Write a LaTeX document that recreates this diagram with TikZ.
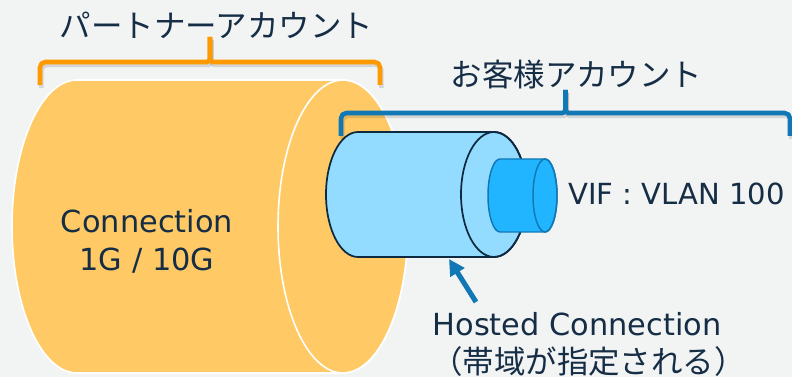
\documentclass[tikz,border=0pt]{standalone}
\usepackage{fontspec}
\setmainfont{DejaVu Sans}
\newfontfamily\jpfont{Noto Sans CJK JP}
\usetikzlibrary{arrows.meta}

\definecolor{bgcol}{HTML}{F2F3F3}
\definecolor{partnerfill}{HTML}{FFCA65}
\definecolor{partnerbrace}{HTML}{FF9900}
\definecolor{custblue}{HTML}{1178B5}
\definecolor{hostedfill}{HTML}{93DBFF}
\definecolor{hostededge}{HTML}{0E2A40}
\definecolor{viffill}{HTML}{22B5FF}
\definecolor{inktext}{HTML}{152D45}

\tikzset{
  bracebase/.style={line width=3.4pt, rounded corners=4pt, line join=round},
  partnerbr/.style={bracebase, draw=partnerbrace},
  custbr/.style={bracebase, draw=custblue},
  braceshadow/.style={bracebase, draw=black, opacity=0.12, xshift=1pt, yshift=-2.2pt},
  jplabel/.style={font=\jpfont\fontsize{23.6}{28}\selectfont, text=inktext, inner sep=0pt},
  enlabel/.style={font=\fontsize{22.8}{28.5}\selectfont, text=inktext, inner sep=0pt},
  pointer/.style={draw=custblue, line width=3.8pt, -{Triangle[length=12pt,width=12pt]}},
}

% curly top brace: style, left x, right x, bar y, tip y, foot y
\newcommand{\topbrace}[6]{%
  \pgfmathsetmacro\bmid{(#2+#3)/2}%
  \foreach \bst in {braceshadow,#1}{%
    \draw[\bst] (#2,#6) -- (#2,#4) -- (\bmid-8,#4)
      .. controls (\bmid-2,#4) and (\bmid,#4-2) .. (\bmid,#4-9) -- (\bmid,#5);
    \draw[\bst] (#3,#6) -- (#3,#4) -- (\bmid+8,#4)
      .. controls (\bmid+2,#4) and (\bmid,#4-2) .. (\bmid,#4-9) -- (\bmid,#5);
  }%
}

\begin{document}
\begin{tikzpicture}[x=0.75pt,y=-0.75pt]
  \fill[bgcol] (0,0) rectangle (792,377);
  \useasboundingbox (0,0) rectangle (792,377);

  % partner connection (large cylinder)
  \filldraw[fill=partnerfill, draw=white, line width=1.2pt]
    (77,80) -- (343,80) arc (-90:90:65 and 146.5) -- (77,373) arc (90:270:65 and 146.5) -- cycle;
  \draw[draw=white, line width=1.2pt] (343,226.5) ellipse [x radius=65, y radius=146.5];

  % hosted connection (middle cylinder)
  \filldraw[fill=hostedfill, draw=hostededge, line width=1.3pt]
    (358,132) -- (494,132) arc (-90:90:33 and 62.5) -- (358,257) arc (90:270:32 and 62.5) -- cycle;
  \draw[draw=hostededge, line width=1.3pt] (494,194.5) ellipse [x radius=33, y radius=62.5];

  % VIF (small cylinder)
  \filldraw[fill=viffill, draw=custblue, line width=1.1pt]
    (500,159) -- (545,159) arc (-90:90:12 and 36.5) -- (500,232) arc (90:270:12 and 36.5) -- cycle;
  \draw[draw=custblue, line width=1.1pt] (545,195.5) ellipse [x radius=12, y radius=36.5];

  % account braces
  \topbrace{partnerbr}{40}{380}{62}{37}{85}
  \topbrace{custbr}{341}{790}{113}{90}{136}

  % labels
  \node[jplabel] (partnerlbl) at (216.5,25) {パートナーアカウント};
  \node[jplabel] (custlbl) at (576.5,75) {お客様アカウント};
  \node[enlabel, align=center] (connlbl) at (147,241) {Connection\\1G / 10G};
  \node[enlabel, font=\fontsize{21.8}{26}\selectfont, anchor=base west] (viflbl) at (568,205) {VIF : VLAN 100};
  \node[enlabel, anchor=base] (hostedlbl) at (577,335) {Hosted Connection};
  \node[jplabel] (hostednote) at (588.5,362) {（帯域が指定される）};

  % pointer to the hosted connection
  \coordinate (hostedfoot) at (449,259);
  \coordinate (pointertail) at (476,302);
  \draw[pointer] (pointertail) -- (hostedfoot);
\end{tikzpicture}
\end{document}
